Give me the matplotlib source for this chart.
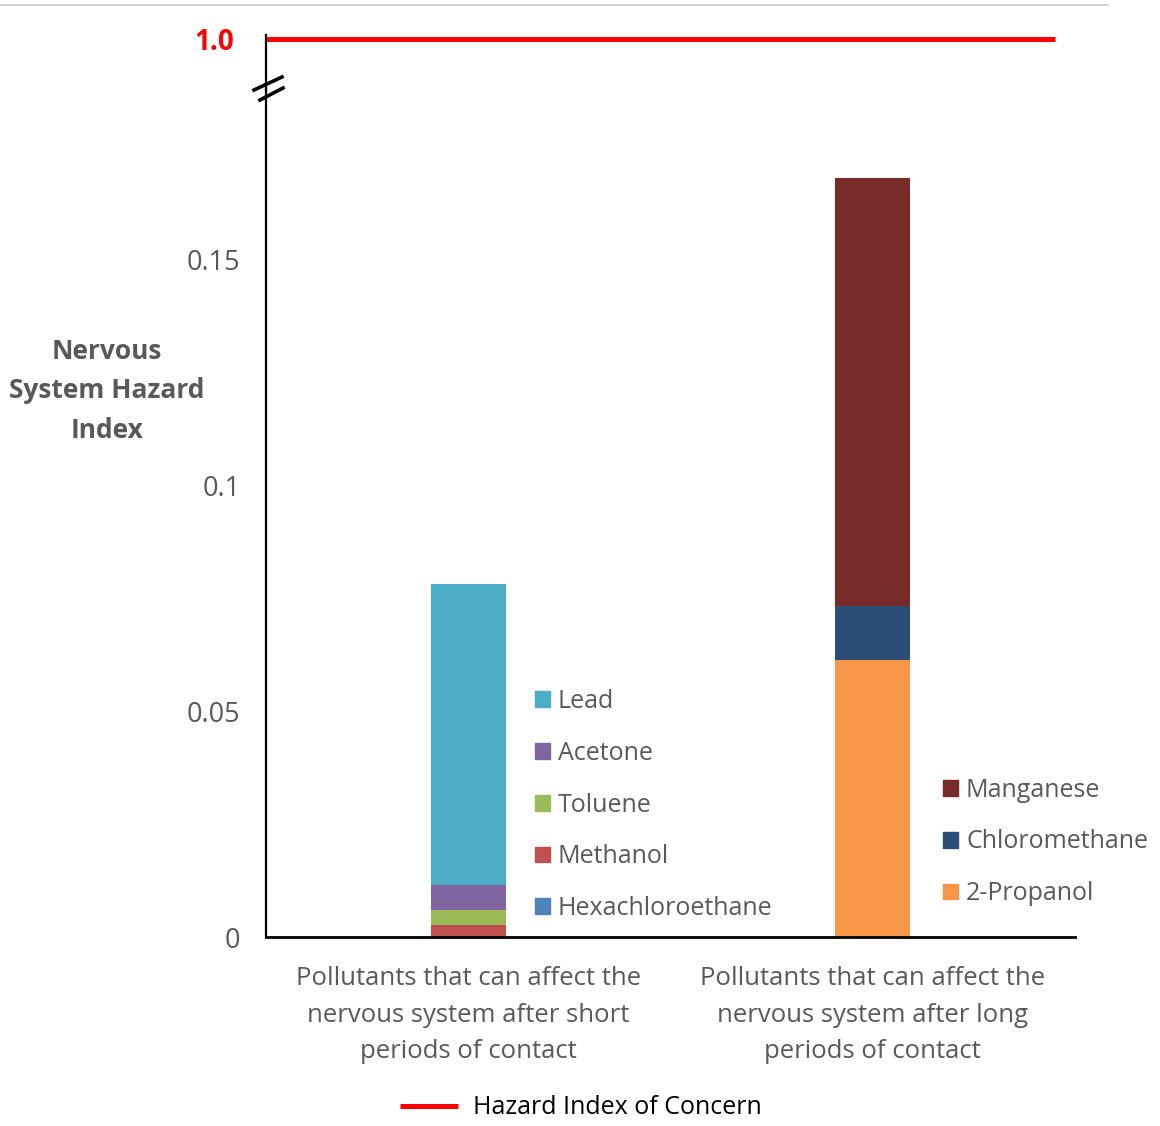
import matplotlib
matplotlib.use('Agg')
import matplotlib.pyplot as plt
from matplotlib.lines import Line2D
from matplotlib.patches import Patch

# ---------------- data ----------------
categories = ["Pollutants that can affect the\nnervous system after short\nperiods of contact",
              "Pollutants that can affect the\nnervous system after long\nperiods of contact"]
short_names = ["Hexachloroethane", "Methanol", "Toluene", "Acetone", "Lead"]
short_values = [0.0002, 0.0025, 0.0032, 0.0057, 0.0665]
long_names = ["2-Propanol", "Chloromethane", "Manganese"]
long_values = [0.0613, 0.0119, 0.0948]
hazard_level = 1.0
hazard_label = "Hazard Index of Concern"
yticks = [0, 0.05, 0.1, 0.15]
ytick_labels = ["0", "0.05", "0.1", "0.15"]
ylabel = "Nervous\nSystem Hazard\nIndex"

colors = {
    "Hexachloroethane": "#4F81BD", "Methanol": "#C0504D", "Toluene": "#9BBB59",
    "Acetone": "#8064A2", "Lead": "#4BACC6",
    "2-Propanol": "#F79646", "Chloromethane": "#2C4D75", "Manganese": "#772C2A",
}

FONT = ['Open Sans', 'DejaVu Sans']
GRAY = '#595959'
plt.rcParams['font.family'] = FONT

W, H = 1160, 1126
fig = plt.figure(figsize=(W / 100, H / 100), dpi=100)

def fx(px):
    return px / W

def fy(py):
    return 1 - py / H

# axes geometry (pixels)
L, R, B, BRK, T = 266, 1075, 937, 90, 35
ax = fig.add_axes([fx(L), fy(B), fx(R) - fx(L), fy(BRK) - fy(B)])
axt = fig.add_axes([fx(L), fy(BRK), fx(R) - fx(L), fy(T) - fy(BRK)], sharex=ax)

xpos = [0, 1]
width = 0.185
bottom = 0
for name, v in zip(short_names, short_values):
    ax.bar(xpos[0], v, width, bottom=bottom, color=colors[name], label=name)
    bottom += v
bottom = 0
for name, v in zip(long_names, long_values):
    ax.bar(xpos[1], v, width, bottom=bottom, color=colors[name], label=name)
    bottom += v

ax.set_xlim(-0.5, 1.5)
ax.set_ylim(0, 0.18739)
ax.set_yticks(yticks)
ax.set_yticklabels(ytick_labels)
ax.set_xticks(xpos)
ax.set_xticklabels(categories, linespacing=1.6)
ax.tick_params(axis='y', length=0, pad=18.5, labelsize=19.5, labelcolor=GRAY)
ax.tick_params(axis='x', length=0, pad=21, labelsize=18.5, labelcolor=GRAY)
for s in ['top', 'right']:
    ax.spines[s].set_visible(False)
ax.spines['left'].set_linewidth(1.6)
ax.spines['bottom'].set_linewidth(2.0)
ax.spines['left'].set_color('black')
ax.spines['bottom'].set_color('black')

ax.set_ylabel(ylabel, rotation=0, fontsize=19, fontweight='bold', color=GRAY,
              ha='center', va='center', linespacing=1.6)
ax.yaxis.set_label_coords((107 - L) / (R - L), (B - 391) / (B - BRK))

# top (broken) axis with the hazard line
d = 0.1
frac = (BRK - 39) / (BRK - T)
axt.set_ylim(hazard_level - frac * d, hazard_level + (1 - frac) * d)
hline, = axt.plot([-0.5, 1.45], [hazard_level, hazard_level], color='#FF0000', lw=3.6,
                  solid_capstyle='butt', label=hazard_label, clip_on=False)
axt.set_yticks([hazard_level])
axt.set_yticklabels(["1.0"])
axt.tick_params(axis='y', length=0, pad=23, labelsize=20, labelcolor='#FF0000')
for lab in axt.get_yticklabels():
    lab.set_fontweight('bold')
axt.tick_params(axis='x', bottom=False, labelbottom=False)
for s in ['top', 'right', 'bottom']:
    axt.spines[s].set_visible(False)
axt.spines['left'].set_linewidth(1.6)
axt.patch.set_alpha(0)

# break marks
for (x0, y0, x1, y1) in [(254, 90, 282, 77), (260, 100, 283, 88)]:
    fig.add_artist(Line2D([fx(x0), fx(x1)], [fy(y0), fy(y1)], color='black', lw=2.6,
                          transform=fig.transFigure))

# thin top border line
fig.add_artist(Line2D([0, fx(1108)], [fy(5), fy(5)], color='#c8c8c8', lw=1.2,
                      transform=fig.transFigure))

# legends
def make_legend(names, x_px, yc_px):
    hs = [Patch(color=colors[n]) for n in names]
    return fig.legend(hs, names, loc='center left', bbox_to_anchor=(fx(x_px), fy(yc_px)),
                      frameon=False, fontsize=18, labelcolor=GRAY, handlelength=0.6,
                      handleheight=0.6, handletextpad=0.32, labelspacing=1.07,
                      borderpad=0, borderaxespad=0)

make_legend(list(reversed(short_names)), 535, 805)
make_legend(list(reversed(long_names)), 943, 842)

fig.legend([hline], [hazard_label], loc='center', bbox_to_anchor=(fx(581), fy(1108)),
           frameon=False, fontsize=18, labelcolor='black', handlelength=2.3,
           handletextpad=0.6, borderpad=0, borderaxespad=0)

fig.savefig('out.png', dpi=100)
